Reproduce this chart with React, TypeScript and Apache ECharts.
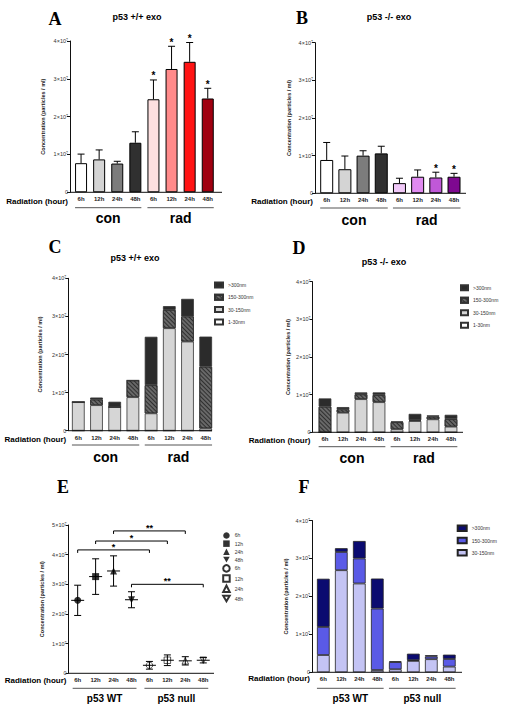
import React, { useEffect, useRef } from 'react';
import * as echarts from 'echarts';

const FONT = '"Liberation Sans", Arial, Helvetica, sans-serif';
const SERIF = '"Liberation Serif", "Times New Roman", serif';

const HOURS = ['6h', '12h', '24h', '48h', '6h', '12h', '24h', '48h'];
const Y_TITLE = 'Concentration (particles / ml)';
const SIZES = ['1-30nm', '30-150nm', '150-300nm', '>300nm'];

// A: p53 +/+ exo, mean and SD (×10⁷ particles/ml); con 6–48h then rad 6–48h
const A_MEAN = [0.77, 0.87, 0.76, 1.31, 2.46, 3.26, 3.45, 2.48];
const A_SD = [0.24, 0.25, 0.06, 0.29, 0.51, 0.6, 0.51, 0.27];
const A_STAR = [0, 0, 0, 0, 1, 1, 1, 1];
const A_COLORS = ['#ffffff', '#d4d4d4', '#7c7c7c', '#303030', '#fde0e0', '#ff8a8a', '#ff1414', '#a00010'];

// B: p53 -/- exo
const B_MEAN = [0.885, 0.64, 1.0, 1.06, 0.27, 0.44, 0.42, 0.44];
const B_SD = [0.465, 0.35, 0.13, 0.19, 0.13, 0.18, 0.14, 0.09];
const B_STAR = [0, 0, 0, 0, 0, 0, 1, 1];
const B_COLORS = ['#ffffff', '#d4d4d4', '#7c7c7c', '#303030', '#f0c8f8', '#e08af0', '#c058d8', '#7e0890'];

// C: p53 +/+ exo by size (×10⁷)
const C_1_30 = [0, 0, 0, 0, 0, 0, 0, 0];
const C_30_150 = [0.75, 0.67, 0.62, 0.88, 0.455, 2.69, 2.34, 0.06];
const C_150_300 = [0, 0.15, 0, 0.44, 0.74, 0.48, 0.66, 1.62];
const C_300 = [0, 0.05, 0.14, 0, 1.27, 0.1, 0.46, 0.79];

// D: p53 -/- exo by size (×10⁷)
const D_1_30 = [0, 0, 0, 0, 0, 0, 0, 0];
const D_30_150 = [0, 0.52, 0.88, 0.8, 0.08, 0.3, 0.345, 0.15];
const D_150_300 = [0.68, 0.09, 0.13, 0.19, 0.19, 0.02, 0.07, 0.2];
const D_300 = [0.22, 0.06, 0.05, 0.07, 0.02, 0.17, 0.035, 0.115];

// E: irradiated, p53 WT (= A rad) and p53 null (= B rad)
const E_GROUPS = ['p53 WT', 'p53 null'];
const E_MEAN = [...A_MEAN.slice(4), ...B_MEAN.slice(4)];
const E_SD = [...A_SD.slice(4), ...B_SD.slice(4)];
const E_SYMBOLS = ['circle', 'rect', 'triangle', 'path://M0,0L10,0L5,8.66Z'];
const E_BR_FROM = [2, 1, 0, 3];
const E_BR_TO = [6, 5, 4, 7];
const E_BR_LEVEL = [4.8, 4.46, 4.16, 3.0];
const E_BR_LABEL = ['**', '*', '*', '**'];

// F: irradiated by size, p53 WT (= C rad) and p53 null (= D rad)
const F_SIZES = ['30-150nm', '150-300nm', '>300nm'];
const F_30_150 = [...C_30_150.slice(4), ...D_30_150.slice(4)];
const F_150_300 = [...C_150_300.slice(4), ...D_150_300.slice(4)];
const F_300 = [...C_300.slice(4), ...D_300.slice(4)];

// panel geometry (page px)
const G = [
  { id: 'A', yx: 70, top: 41, zero: 192.3, left: 72, band: 18.1, end: 222, max: 4, bw: 12, gap: 24, row: 201, grp: 218, gline: 207.7 },
  { id: 'B', yx: 315, top: 42.7, zero: 193.3, left: 317.6, band: 18.19, end: 466, max: 4, bw: 13, gap: 23, row: 201, grp: 219.5, gline: 208 },
  { id: 'C', yx: 68.3, top: 278.3, zero: 430.7, left: 69.2, band: 18.2, end: 212, max: 4, bw: 12.7, gap: 25, row: 439, grp: 457, gline: 445 },
  { id: 'D', yx: 312.5, top: 281.7, zero: 432.3, left: 316, band: 18, end: 463, max: 4, bw: 12.7, gap: 22, row: 440, grp: 458, gline: 446.7 },
  { id: 'E', yx: 68.5, top: 525, zero: 673.3, left: 68.7, band: 17.94, end: 214, max: 5, bw: 10, gap: 24, row: 680, grp: 698.3, gline: 688.3 },
  { id: 'F', yx: 312, top: 520.5, zero: 672.3, left: 314.3, band: 18, end: 462, max: 4, bw: 12.7, gap: 23, row: 678.5, grp: 698.3, gline: 688.3 },
];
const LETTERS = [
  { t: 'A', x: 55, y: 19 }, { t: 'B', x: 302, y: 18 }, { t: 'C', x: 55, y: 247 },
  { t: 'D', x: 299, y: 248 }, { t: 'E', x: 63, y: 487 }, { t: 'F', x: 304, y: 487 },
];
const TITLES = [
  { t: 'p53 +/+ exo', x: 137, y: 17 }, { t: 'p53 -/- exo', x: 389, y: 17 },
  { t: 'p53 +/+ exo', x: 135, y: 258 }, { t: 'p53 -/- exo', x: 384, y: 262 },
];
const GROUP_LABELS = [['con', 'rad'], ['con', 'rad'], ['con', 'rad'], ['con', 'rad'], E_GROUPS, E_GROUPS];

const txtStyle = (text: string, font: string, align = 'center', valign = 'middle', fill = '#000') => ({
  text, font, fill, textAlign: align, textVerticalAlign: valign, align, verticalAlign: valign,
});
const txt = (x: number, y: number, text: string, font: string, align = 'center') => ({
  type: 'text', x, y, silent: true, z: 10, style: txtStyle(text, font, align),
});
const ln = (x1: number, y1: number, x2: number, y2: number, stroke = '#000', w = 1) => ({
  type: 'line', silent: true, z: 10, shape: { x1, y1, x2, y2 }, style: { stroke, lineWidth: w },
});

const errUp = (_p: any, api: any) => {
  const i = api.value(0), m = api.value(1), sd = api.value(2), star = api.value(3);
  const b = api.coord([i, m]);
  const t = api.coord([i, m + sd]);
  const st = { stroke: '#000', lineWidth: 1 };
  const ch: any[] = [
    { type: 'line', shape: { x1: b[0], y1: b[1], x2: b[0], y2: t[1] }, style: st },
    { type: 'line', shape: { x1: b[0] - 3.5, y1: t[1], x2: b[0] + 3.5, y2: t[1] }, style: st },
  ];
  if (star) ch.push({ type: 'text', x: b[0], y: t[1] + 1, style: txtStyle('*', `bold 10px ${FONT}`, 'center', 'bottom') });
  return { type: 'group', children: ch };
};

const errBoth = (_p: any, api: any) => {
  const i = api.value(0), m = api.value(1), sd = api.value(2);
  const c = api.coord([i, m]);
  const t = api.coord([i, m + sd]);
  const b = api.coord([i, m - sd]);
  const st = { stroke: '#000', lineWidth: 1 };
  return {
    type: 'group',
    children: [
      { type: 'line', shape: { x1: c[0], y1: t[1], x2: c[0], y2: b[1] }, style: st },
      { type: 'line', shape: { x1: c[0] - 3.5, y1: t[1], x2: c[0] + 3.5, y2: t[1] }, style: st },
      { type: 'line', shape: { x1: c[0] - 3.5, y1: b[1], x2: c[0] + 3.5, y2: b[1] }, style: st },
      { type: 'line', shape: { x1: c[0] - 6.5, y1: c[1], x2: c[0] + 6.5, y2: c[1] }, style: st },
    ],
  };
};

const bracket = (p: any, api: any) => {
  const k = p.dataIndex;
  const a = api.coord([api.value(0), api.value(1)]);
  const b = api.coord([api.value(2), api.value(1)]);
  return {
    type: 'group',
    children: [
      { type: 'polyline', shape: { points: [[a[0], a[1] + 3], [a[0], a[1]], [b[0], b[1]], [b[0], b[1] + 3]] }, style: { stroke: '#000', lineWidth: 1, fill: 'none' } },
      { type: 'text', x: (a[0] + b[0]) / 2, y: a[1] + 1.5, style: txtStyle(E_BR_LABEL[k], `bold 9px ${FONT}`, 'center', 'bottom') },
    ],
  };
};

const HATCH = { symbol: 'rect', symbolSize: 1, color: 'rgba(0,0,0,0.55)', dashArrayX: [1, 0], dashArrayY: [1, 1.4], rotation: Math.PI / 4 };
const GRAY_STYLES = [
  { color: '#ffffff' },
  { color: '#d6d6d6' },
  { color: '#686868', decal: HATCH },
  { color: '#2b2b2b' },
];
const BLUE_STYLES = [{ color: '#c4c4f4' }, { color: '#5a5ae6' }, { color: '#0b0b70' }];

function buildOption() {
  const grid = G.map((g) => ({ left: g.left, top: g.top, width: g.band * 8, height: g.zero - g.top }));
  const xAxis = G.map((g, i) => ({
    gridIndex: i, type: 'category', data: HOURS,
    axisLine: { show: false }, axisTick: { show: false },
    axisLabel: { interval: 0, fontSize: 6, fontWeight: 'bold', color: '#222', margin: 4 },
  }));
  const yAxis = G.map((g, i) => ({
    gridIndex: i, type: 'value', min: 0, max: g.max, interval: 1, offset: g.left - g.yx,
    axisLine: { show: true, lineStyle: { color: '#111', width: 1 } },
    axisTick: { show: true, length: 3, lineStyle: { color: '#111' } },
    splitLine: { show: false },
    axisLabel: { fontSize: 5.5, color: '#333', margin: 2, formatter: (v: number) => (v === 0 ? '0' : `${v}×10⁷`) },
    name: Y_TITLE, nameLocation: 'middle', nameGap: g.gap,
    nameTextStyle: { fontSize: 5.5, fontWeight: 'bold', color: '#222' },
  }));

  const series: any[] = [];
  [[A_MEAN, A_SD, A_STAR, A_COLORS, 0], [B_MEAN, B_SD, B_STAR, B_COLORS, 1]].forEach(([mean, sd, star, colors, gi]: any) => {
    series.push({
      type: 'bar', xAxisIndex: gi, yAxisIndex: gi, barWidth: G[gi].bw,
      data: mean.map((v: number, i: number) => ({ value: v, itemStyle: { color: colors[i] } })),
      itemStyle: { borderColor: '#000', borderWidth: 1 },
    });
    series.push({
      type: 'custom', xAxisIndex: gi, yAxisIndex: gi, z: 5, renderItem: errUp,
      data: mean.map((v: number, i: number) => [i, v, sd[i], star[i]]),
    });
  });
  [[[C_1_30, C_30_150, C_150_300, C_300], 2, 'C'], [[D_1_30, D_30_150, D_150_300, D_300], 3, 'D']].forEach(([arrs, gi, id]: any) => {
    arrs.forEach((arr: number[], k: number) => {
      series.push({
        type: 'bar', name: `${id}|${SIZES[k]}`, stack: id, xAxisIndex: gi, yAxisIndex: gi, barWidth: G[gi].bw,
        data: arr, itemStyle: { ...GRAY_STYLES[k], borderColor: '#333', borderWidth: 0.8 },
      });
    });
  });
  E_MEAN.forEach((v, i) => {
    const filled = i < 4;
    series.push({
      type: 'scatter', name: `${E_GROUPS[filled ? 0 : 1]}|${HOURS[i]}`, xAxisIndex: 4, yAxisIndex: 4,
      symbol: E_SYMBOLS[i % 4], symbolSize: filled ? 7 : 6.5, z: 6,
      data: [[i, v]],
      itemStyle: filled ? { color: '#000' } : { color: 'rgba(255,255,255,0)', borderColor: '#000', borderWidth: 0.8 },
    });
  });
  series.push({ type: 'custom', xAxisIndex: 4, yAxisIndex: 4, z: 5, renderItem: errBoth, data: E_MEAN.map((v, i) => [i, v, E_SD[i]]) });
  series.push({ type: 'custom', xAxisIndex: 4, yAxisIndex: 4, z: 5, renderItem: bracket, data: E_BR_FROM.map((f, k) => [f, E_BR_LEVEL[k], E_BR_TO[k]]) });
  [F_30_150, F_150_300, F_300].forEach((arr, k) => {
    series.push({
      type: 'bar', name: `F|${F_SIZES[k]}`, stack: 'F', xAxisIndex: 5, yAxisIndex: 5, barWidth: G[5].bw,
      data: arr, itemStyle: { ...BLUE_STYLES[k], borderColor: '#222', borderWidth: 0.8 },
    });
  });

  const fmt = (n: string) => n.split('|')[1];
  const legBase = { orient: 'vertical', selectedMode: false, padding: 0, formatter: fmt, textStyle: { fontSize: 5, color: '#333' } };
  const legend = [
    { ...legBase, icon: 'rect', data: [...SIZES].reverse().map((s) => `C|${s}`), left: 214, top: 281.5, itemWidth: 8, itemHeight: 5, itemGap: 5.3 },
    { ...legBase, icon: 'rect', data: [...SIZES].reverse().map((s) => `D|${s}`), left: 460, top: 284.2, itemWidth: 7, itemHeight: 5, itemGap: 5.5 },
    { ...legBase, data: E_MEAN.map((_, i) => `${E_GROUPS[i < 4 ? 0 : 1]}|${HOURS[i]}`), left: 222.2, top: 532.2, itemWidth: 6.5, itemHeight: 6.5, itemGap: 1.7 },
    { ...legBase, icon: 'rect', data: [...F_SIZES].reverse().map((s) => `F|${s}`), left: 456.7, top: 524.6, itemWidth: 9, itemHeight: 5.5, itemGap: 4.7 },
  ];

  const graphic: any[] = [];
  LETTERS.forEach((l) => graphic.push(txt(l.x, l.y, l.t, `bold 18px ${SERIF}`)));
  TITLES.forEach((t) => graphic.push(txt(t.x, t.y, t.t, `bold 9px ${FONT}`)));
  G.forEach((g, gi) => {
    graphic.push(ln(g.yx, g.zero, g.end, g.zero, '#111', 1));
    graphic.push(txt(g.yx - 2, g.row, 'Radiation (hour)', `bold 8px ${FONT}`, 'right'));
    const half = g.bw / 2;
    [0, 4].forEach((s, k) => {
      const x1 = g.left + g.band * (s + 0.5) - half;
      const x2 = g.left + g.band * (s + 3.5) + half;
      graphic.push(ln(x1, g.gline, x2, g.gline, '#555', 1));
      const big = gi < 4;
      graphic.push(txt((x1 + x2) / 2, g.grp, GROUP_LABELS[gi][k], `bold ${big ? 14 : 10}px ${FONT}`));
    });
  });

  return { animation: false, backgroundColor: '#ffffff', textStyle: { fontFamily: FONT }, grid, xAxis, yAxis, series, legend, graphic };
}

export default function App() {
  const ref = useRef<HTMLDivElement>(null);
  useEffect(() => {
    if (!ref.current) return;
    const chart = echarts.init(ref.current, undefined, { renderer: 'svg' });
    chart.setOption(buildOption() as any);
    return () => chart.dispose();
  }, []);
  return <div ref={ref} style={{ position: 'absolute', left: 0, top: 0, width: 511, height: 709 }} />;
}
